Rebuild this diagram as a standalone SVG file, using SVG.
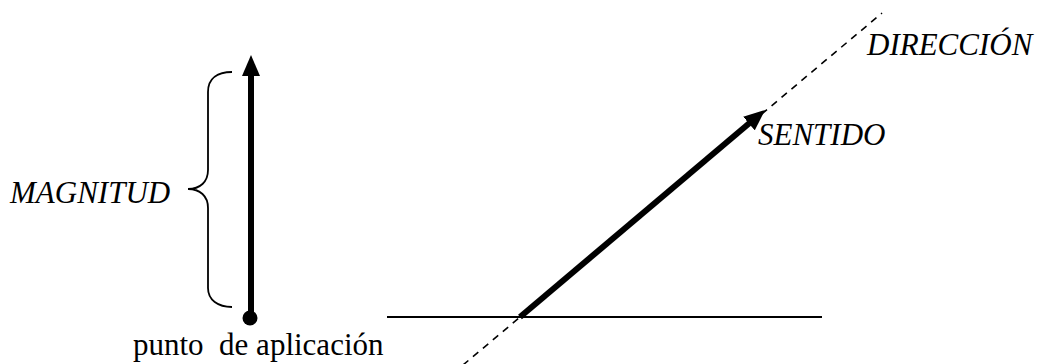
<svg xmlns="http://www.w3.org/2000/svg" width="1042" height="364" viewBox="0 0 1042 364">
<style>
.lbl{font-family:"Liberation Serif","Times New Roman","DejaVu Serif",serif;font-size:31px;fill:#000}
.it{font-style:italic}
.vec{stroke:#000;stroke-width:6;fill:none}
.thin{stroke:#000;stroke-width:1.8;fill:none}
.dash{stroke:#000;stroke-width:1.6;stroke-dasharray:7 6;fill:none}
</style>
<defs>
<marker id="ah" viewBox="0 -9 21 18" markerUnits="userSpaceOnUse" markerWidth="21" markerHeight="18" refX="7" refY="0" orient="auto">
<path d="M0,-9 L21,0 L0,9 z" fill="#000"/>
</marker>
</defs>
<rect width="1042" height="364" fill="#fff"/>
<g id="connectors">
<line class="dash" x1="463" y1="365" x2="882" y2="13"/>
<line class="thin" x1="387" y1="317" x2="822" y2="317"/>
<line class="vec" x1="251" y1="318" x2="251" y2="69" marker-end="url(#ah)"/>
<line class="vec" x1="520" y1="317" x2="754.3" y2="119" marker-end="url(#ah)"/>
<path class="thin" d="M232,72 C218,72 208,78 208,92 L208,170 C208,182 200,189 188,189 C200,189 208,196 208,208 L208,288 C208,300 218,307 232,307"/>
</g>
<g id="punto">
<circle cx="250" cy="318" r="7.5"/>
<text class="lbl" x="133" y="355" xml:space="preserve">punto  de aplicación</text>
</g>
<g id="magnitud"><text class="lbl it" x="10" y="203">MAGNITUD</text></g>
<g id="direccion"><text class="lbl it" x="867" y="55">DIRECCIÓN</text></g>
<g id="sentido"><text class="lbl it" x="758" y="145">SENTIDO</text></g>
</svg>
